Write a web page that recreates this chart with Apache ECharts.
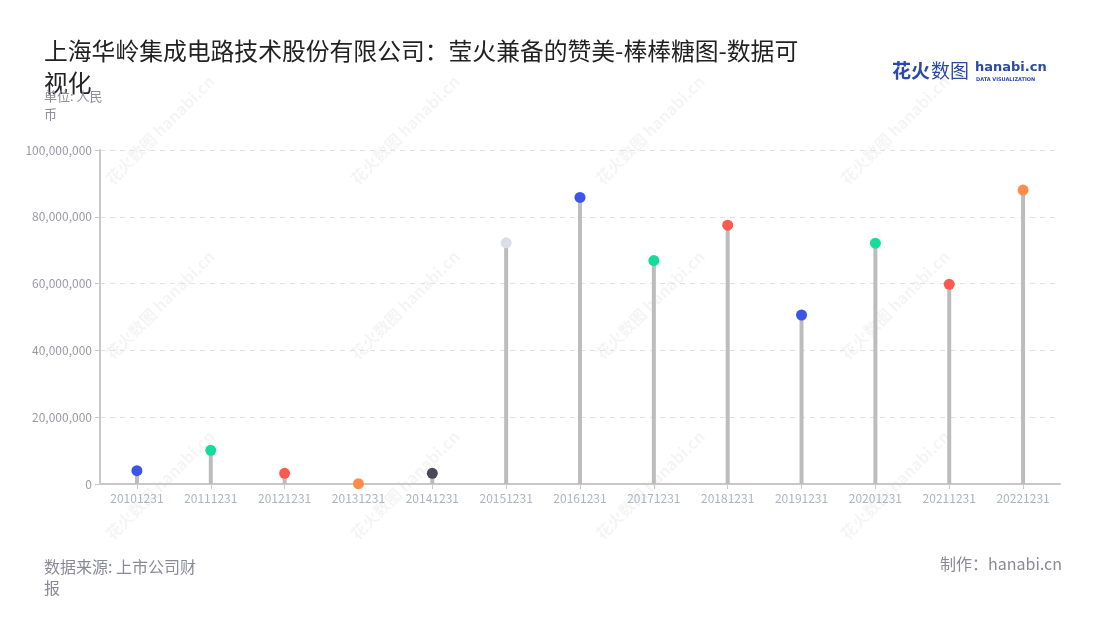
<!DOCTYPE html>
<html>
<head>
<meta charset="utf-8">
<script src="https://cdn.jsdelivr.net/npm/echarts@6/dist/echarts.min.js"></script>
<style>
html,body{margin:0;padding:0;background:#fff;}
#chart{width:1100px;height:620px;}
</style>
</head>
<body>
<div id="chart"></div>
<script>
const categories = ['20101231','20111231','20121231','20131231','20141231','20151231','20161231','20171231','20181231','20191231','20201231','20211231','20221231'];
const values = [4000000, 10100000, 3200000, 100000, 3200000, 72200000, 85800000, 66900000, 77500000, 50600000, 72100000, 59800000, 88000000];
const yTicks = [0, 20000000, 40000000, 60000000, 80000000, 100000000];
const dotColors = ['#3a55e8','#14dd9c','#fb5a50','#ff8c4a','#4a4a55','#dadee8','#3a55e8','#14dd9c','#fb5a50','#3a55e8','#14dd9c','#fb5a50','#ff8c4a'];

const FONT = '"Noto Sans CJK SC","Noto Sans",sans-serif';

const chart = echarts.init(document.getElementById('chart'), null, {renderer:'canvas'});

const watermarks = [];
const cols = [160, 405, 650, 895];
const rows = [130, 305, 485];
rows.forEach(function(r){
  cols.forEach(function(c){
    watermarks.push({
      type:'text', x:c, y:r, rotation:Math.PI/4, z:-1, silent:true,
      style:{text:'花火数图 hanabi.cn', fill:'rgba(0,0,0,0.045)', font:'bold 16px ' + FONT, align:'center', verticalAlign:'middle'}
    });
  });
});

const option = {
  animation:false,
  backgroundColor:'#fff',
  title:[{
    text:'上海华岭集成电路技术股份有限公司：莹火兼备的赞美-棒棒糖图-数据可视化',
    left:39, top:30,
    textStyle:{fontFamily:FONT, fontSize:23.8, fontWeight:'normal', color:'#222', width:770, overflow:'break', lineHeight:32}
  },{
    text:'单位: 人民币',
    left:39, top:82,
    textStyle:{fontFamily:FONT, fontSize:13, fontWeight:'normal', color:'#8e8e9c', width:68, overflow:'break', lineHeight:18}
  },{
    text:'数据来源: 上市公司财报',
    left:39, top:551,
    textStyle:{fontFamily:FONT, fontSize:16, fontWeight:'normal', color:'#8a8a96', width:165, overflow:'break', lineHeight:21}
  },{
    text:'制作：hanabi.cn',
    right:33, top:551,
    textStyle:{fontFamily:FONT, fontSize:16, fontWeight:'normal', color:'#8a8a96'}
  }],
  graphic: watermarks.concat([
    {type:'text', left:892, top:61, style:{text:'花火', fill:'#2b4aa8', font:'bold 19px ' + FONT}},
    {type:'text', left:931, top:61, style:{text:'数图', fill:'#2b4aa8', font:'19px ' + FONT}},
    {type:'text', left:975, top:61, style:{text:'hanabi.cn', fill:'#2b4aa8', font:'bold 13px "DejaVu Sans",sans-serif'}},
    {type:'text', left:976, top:77, style:{text:'DATA VISUALIZATION', fill:'#2b4aa8', font:'bold 5px "DejaVu Sans",sans-serif'}}
  ]),
  grid:{left:100, right:40, top:150, bottom:136, containLabel:false},
  xAxis:{
    type:'category',
    data:categories,
    axisLine:{lineStyle:{color:'#c8c8c8', width:2}},
    axisTick:{show:true, alignWithLabel:true, length:5, lineStyle:{color:'#c8c8c8'}},
    axisLabel:{color:'#aeb3c2', fontSize:12, fontFamily:FONT, margin:8, interval:0}
  },
  yAxis:{
    type:'value',
    min:yTicks[0], max:yTicks[yTicks.length-1], interval:yTicks[1]-yTicks[0],
    axisLine:{show:true, lineStyle:{color:'#c8c8c8', width:2}},
    axisTick:{show:true, length:5, lineStyle:{color:'#c8c8c8'}},
    axisLabel:{color:'#9a9aa4', fontSize:12, fontFamily:FONT, margin:8,
      formatter:function(v){return v.toLocaleString('en-US');}},
    splitLine:{show:true, lineStyle:{color:'#e2e2e2', type:[5,5], width:1}}
  },
  series:[{
    type:'bar',
    data:values,
    barWidth:4,
    itemStyle:{color:'#bcbcbc'},
    silent:true
  },{
    type:'scatter',
    data:values.map(function(v,i){return {value:v, itemStyle:{color:dotColors[i], opacity:1}};}),
    symbolSize:11,
    z:5,
    silent:true
  }]
};
chart.setOption(option);
</script>
</body>
</html>
